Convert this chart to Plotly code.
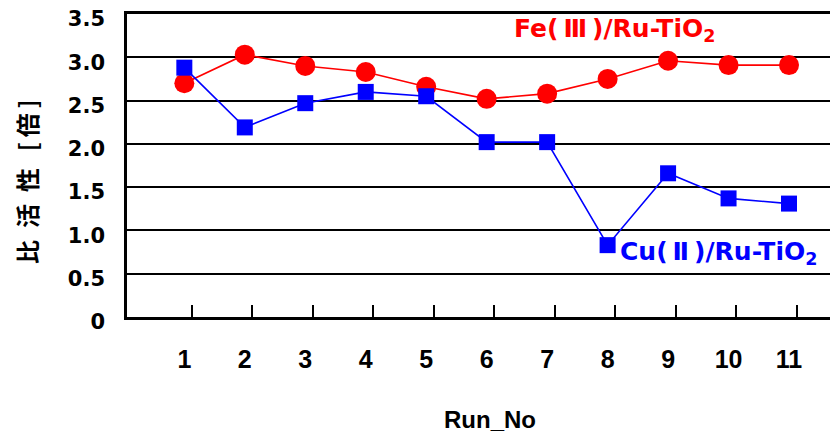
import plotly.graph_objects as go

runs = [1, 2, 3, 4, 5, 6, 7, 8, 9, 10, 11]
fe_values = [2.70, 3.03, 2.90, 2.83, 2.66, 2.52, 2.58, 2.75, 2.96, 2.91, 2.91]
cu_values = [2.88, 2.19, 2.47, 2.60, 2.55, 2.02, 2.02, 0.83, 1.66, 1.37, 1.31]
y_tickvals = [0, 0.5, 1.0, 1.5, 2.0, 2.5, 3.0, 3.5]
y_ticktext = ["0", "0.5", "1.0", "1.5", "2.0", "2.5", "3.0", "3.5"]
x_ticktext = [str(r) for r in runs]
fe_label = "Fe(\u2009Ⅲ\u2009)/Ru-TiO<sub>2</sub>"
cu_label = "Cu(\u2009Ⅱ\u2009)/Ru-TiO<sub>2</sub>"
y_title = "比\u2002活\u2002性\u2002\u2009[\u2009倍\u2009]"
x_title = "Run_No"

RED = "#FF0000"
BLUE = "#0000FF"
XR = [0.052, 11.81]

fig = go.Figure()
fig.add_trace(go.Scatter(
    x=runs, y=fe_values, mode="lines+markers",
    line=dict(color=RED, width=1.6),
    marker=dict(symbol="circle", size=20, color=RED),
    showlegend=False,
))
fig.add_trace(go.Scatter(
    x=runs, y=cu_values, mode="lines+markers",
    line=dict(color=BLUE, width=1.6),
    marker=dict(symbol="square", size=16, color=BLUE),
    showlegend=False,
))
# invisible trace on secondary x-axis for offset tick marks
fig.add_trace(go.Scatter(x=[r + 0.125 for r in runs], y=[None]*len(runs), xaxis="x2",
                         showlegend=False, hoverinfo="skip"))

fig.update_layout(
    width=830, height=428,
    margin=dict(l=119, r=0, t=6, b=119, autoexpand=False),
    plot_bgcolor="white", paper_bgcolor="white",
    font=dict(family="Liberation Sans, Noto Sans CJK JP", color="black"),
    xaxis=dict(
        range=XR, tickmode="array", tickvals=runs, ticktext=x_ticktext,
        showgrid=False, zeroline=False, ticks="", automargin=False,
        showline=True, linecolor="black", linewidth=2.5, mirror=True,
        tickfont=dict(family="Liberation Sans Narrow, Liberation Sans", size=25, color="black", weight="bold"),
        ticklabelstandoff=18,
    ),
    xaxis2=dict(
        range=XR, overlaying="x", side="bottom", tickmode="array",
        tickvals=[r + 0.125 for r in runs], showticklabels=False, automargin=False,
        ticks="inside", ticklen=12, tickwidth=1.6, tickcolor="black",
        showgrid=False, zeroline=False, showline=False,
    ),
    yaxis=dict(
        range=[0, 3.5], tickmode="array", tickvals=y_tickvals, ticktext=y_ticktext,
        showgrid=True, gridcolor="black", gridwidth=2, automargin=False,
        zeroline=False, ticks="",
        showline=True, linecolor="black", linewidth=2.5,
        tickfont=dict(family="DejaVu Sans", size=21, color="black", weight="bold"),
        ticklabelstandoff=15, ticklabelshift=5, ticklabeloverflow="allow",
    ),
    annotations=[
        dict(x=8.11, y=3.32, xref="x", yref="y", text=fe_label, showarrow=False,
             xanchor="center", yanchor="middle",
             font=dict(family="DejaVu Sans, Noto Sans CJK JP", size=25, color=RED, weight="bold")),
        dict(x=8.17, y=0.74, xref="x", yref="y", text=cu_label, showarrow=False,
             xanchor="left", yanchor="middle",
             font=dict(family="DejaVu Sans, Noto Sans CJK JP", size=25, color=BLUE, weight="bold")),
        dict(x=(490 - 127) / 711, y=(317 - 419) / 303, xref="paper", yref="paper", text=x_title,
             showarrow=False, xanchor="center", yanchor="middle",
             font=dict(family="Liberation Sans", size=24, color="black", weight="bold")),
        dict(x=-(127 - 26) / 711, y=(317 - 182) / 303, xref="paper", yref="paper", text=y_title,
             textangle=-90, showarrow=False, xanchor="center", yanchor="middle",
             font=dict(family="Noto Sans CJK JP", size=24, color="black", weight="bold")),
    ],
)

fig.write_html("out.html")
